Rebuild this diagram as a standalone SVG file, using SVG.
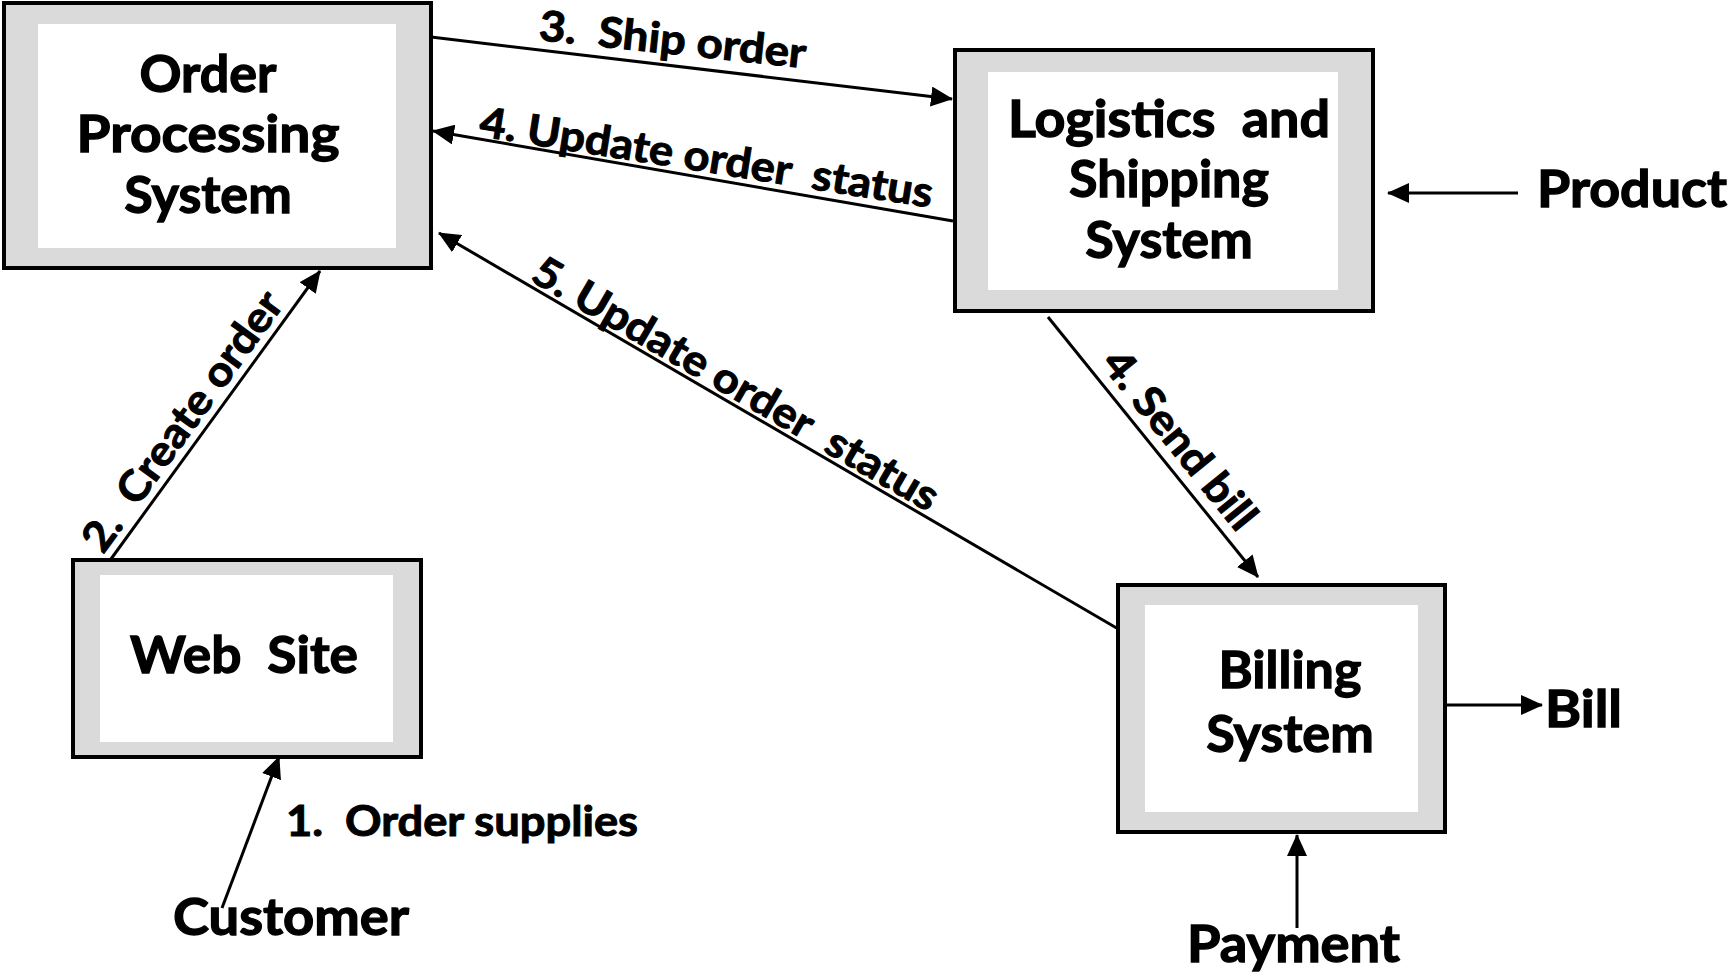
<svg xmlns="http://www.w3.org/2000/svg" width="1733" height="975" viewBox="0 0 1733 975">
  <style>
    .outer { fill: #dadada; stroke: #000; stroke-width: 4; }
    .inner { fill: #ffffff; stroke: none; }
    .t { font-family: Lato, "Liberation Sans", sans-serif; font-weight: 700; fill: #000; stroke: #000; stroke-width: 1.3; white-space: pre; }
    .box { font-size: 52px; text-anchor: middle; }
    .ext { font-size: 52px; }
    .lbl { font-size: 42px; stroke-width: 1; }
    .conn { stroke: #000; stroke-width: 3; fill: none; marker-end: url(#arrow); }
  </style>
  <defs>
    <marker id="arrow" viewBox="0 0 22 20" refX="21" refY="10" markerWidth="22" markerHeight="20" markerUnits="userSpaceOnUse" orient="auto">
      <path d="M0,0 L22,10 L0,20 z" fill="#000"/>
    </marker>
  </defs>
  <rect width="1733" height="975" fill="#fff"/>

  <g id="connectors">
    <line class="conn" x1="431" y1="37" x2="952" y2="99"/>
    <line class="conn" x1="953" y1="221" x2="433" y2="131"/>
    <line class="conn" x1="1120" y1="630" x2="439" y2="233"/>
    <line class="conn" x1="111" y1="559" x2="320" y2="271"/>
    <line class="conn" x1="1048" y1="317" x2="1258" y2="577"/>
    <line class="conn" x1="1518" y1="193" x2="1388" y2="193"/>
    <line class="conn" x1="1447" y1="705" x2="1542" y2="705"/>
    <line class="conn" x1="1297" y1="928" x2="1297" y2="835"/>
    <line class="conn" x1="222" y1="908" x2="279" y2="757"/>
  </g>

  <g id="order-processing">
    <rect class="outer" x="4" y="3" width="427" height="265"/>
    <rect class="inner" x="38" y="24" width="358" height="224"/>
    <text class="t box" x="208" y="92">Order</text>
    <text class="t box" x="208" y="152" textLength="263" lengthAdjust="spacingAndGlyphs">Processing</text>
    <text class="t box" x="208" y="213">System</text>
  </g>

  <g id="logistics">
    <rect class="outer" x="955" y="50" width="418" height="261"/>
    <rect class="inner" x="988" y="72" width="350" height="218"/>
    <text class="t box" x="1169" y="137" textLength="322" lengthAdjust="spacingAndGlyphs">Logistics  and</text>
    <text class="t box" x="1169" y="197">Shipping</text>
    <text class="t box" x="1169" y="258">System</text>
  </g>

  <g id="web-site">
    <rect class="outer" x="73" y="560" width="348" height="197"/>
    <rect class="inner" x="100" y="575" width="293" height="167"/>
    <text class="t box" x="244" y="673" textLength="228" lengthAdjust="spacingAndGlyphs">Web  Site</text>
  </g>

  <g id="billing">
    <rect class="outer" x="1118" y="585" width="327" height="247"/>
    <rect class="inner" x="1145" y="605" width="273" height="207"/>
    <text class="t box" x="1290" y="688">Billing</text>
    <text class="t box" x="1290" y="752">System</text>
  </g>

  <g id="product"><text class="t ext" x="1537" y="207" textLength="190" lengthAdjust="spacingAndGlyphs">Product</text></g>
  <g id="bill"><text class="t ext" x="1545" y="727" textLength="77" lengthAdjust="spacingAndGlyphs">Bill</text></g>
  <g id="payment"><text class="t ext" x="1187" y="962" textLength="213" lengthAdjust="spacingAndGlyphs">Payment</text></g>
  <g id="customer"><text class="t ext" x="173" y="935" textLength="236" lengthAdjust="spacingAndGlyphs">Customer</text></g>

  <g id="labels">
    <text class="t lbl" x="286" y="836" textLength="352" lengthAdjust="spacingAndGlyphs">1.  Order supplies</text>
    <text class="t lbl" transform="translate(103,555) rotate(-54)" textLength="310" lengthAdjust="spacingAndGlyphs">2.  Create order</text>
    <text class="t lbl" transform="translate(538,40) rotate(6)" textLength="268" lengthAdjust="spacingAndGlyphs">3.  Ship order</text>
    <text class="t lbl" transform="translate(478,136) rotate(9)" textLength="458" lengthAdjust="spacingAndGlyphs">4. Update order  status</text>
    <text class="t lbl" transform="translate(529,280) rotate(30.2)" textLength="462" lengthAdjust="spacingAndGlyphs">5. Update order  status</text>
    <text class="t lbl" transform="translate(1100,364) rotate(51)" textLength="218" lengthAdjust="spacingAndGlyphs">4. Send bill</text>
  </g>
</svg>
